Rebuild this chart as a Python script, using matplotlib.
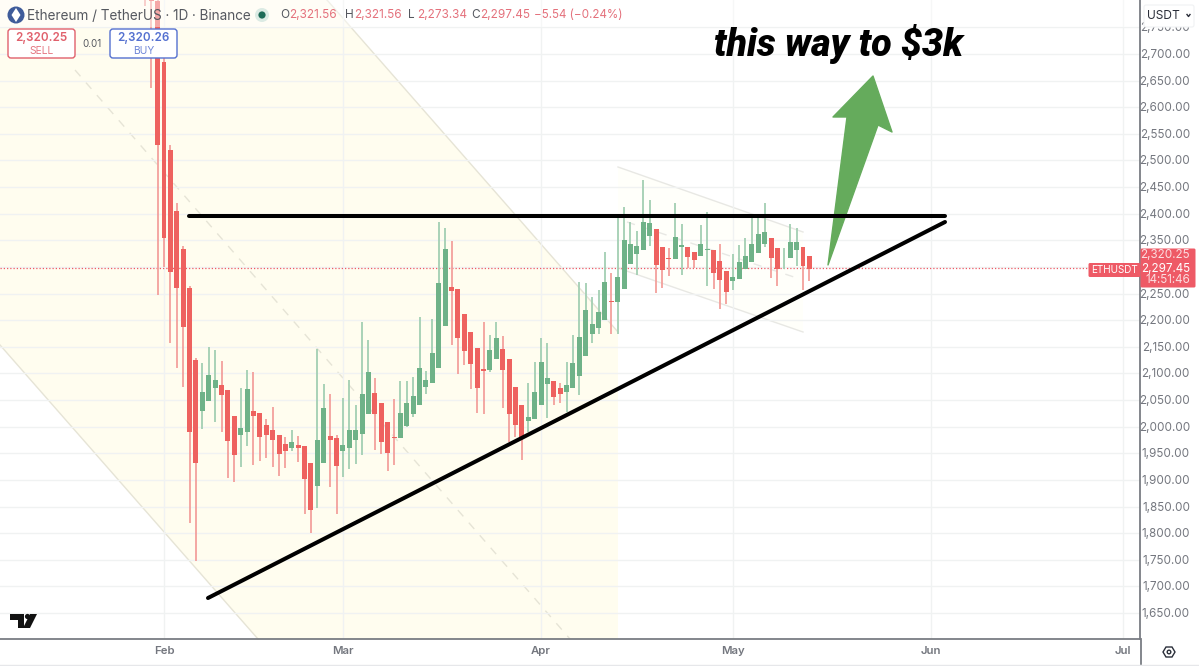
import matplotlib
matplotlib.use("Agg")
import matplotlib.pyplot as plt
from matplotlib.patches import Polygon, FancyBboxPatch, Circle, Rectangle
from matplotlib.lines import Line2D

# ---------- data (day number counted from 1 Feb) ----------
first_day = -3
opens = [2900, 2860, 2800, 2685, 2520, 2406, 2334, 2260, 2125,
         2030, 2048, 2072, 2079, 2069, 2021, 1984, 1991, 2030, 2025, 2003, 1994, 1985, 1968, 1961, 1966,
         1964, 1932, 1888, 1932, 1983, 1979, 1954, 1960, 1976, 1986, 2024, 2063, 2044, 2008, 1980, 1978,
         2002, 2023, 2041, 2075, 2082, 2110, 2190, 2262, 2258, 2212, 2177, 2147, 2109, 2106, 2127, 2146,
         2127, 2075, 2040, 2011, 2014, 2041, 2081, 2086, 2072, 2066, 2073, 2096, 2132, 2175, 2185, 2200,
         2236, 2235, 2258, 2305, 2324, 2331, 2358, 2371, 2337, 2316, 2315, 2337, 2338, 2329, 2321, 2332,
         2332, 2311, 2293, 2274, 2278, 2296, 2309, 2326, 2343, 2355, 2336, 2316, 2316, 2332, 2338, 2321]
closes = [2850, 2800, 2529, 2354, 2291, 2261, 2188, 1991, 1932,
          2065, 2097, 2087, 2060, 1974, 1946, 1998, 2070, 2020, 1981, 1985, 1976, 1949, 1954, 1972, 1961,
          1901, 1843, 1976, 2035, 1976, 1927, 1965, 1993, 1994, 2062, 2103, 2024, 1972, 1950, 1978, 2025,
          2044, 2058, 2110, 2087, 2139, 2269, 2333, 2254, 2167, 2143, 2117, 2072, 2105, 2145, 2166, 2107,
          2024, 2003, 1981, 2018, 2066, 2122, 2092, 2056, 2061, 2078, 2119, 2169, 2219, 2193, 2215, 2271,
          2234, 2282, 2351, 2343, 2339, 2385, 2382, 2304, 2294, 2315, 2357, 2341, 2319, 2313, 2343, 2334,
          2289, 2276, 2253, 2282, 2310, 2321, 2343, 2362, 2366, 2317, 2296, 2317, 2346, 2346, 2302, 2297]
highs = [2905, 2870, 2810, 2700, 2530, 2420, 2340, 2265, 2130,
         2120, 2150, 2145, 2123, 2069, 2021, 2072, 2106, 2102, 2025, 2014, 2038, 1985, 1980, 1994, 1983,
         1964, 1932, 2146, 2081, 2062, 1984, 2054, 2088, 2040, 2197, 2162, 2091, 2044, 2008, 2052, 2086,
         2085, 2093, 2207, 2105, 2202, 2384, 2374, 2349, 2258, 2212, 2177, 2147, 2197, 2172, 2197, 2170,
         2127, 2075, 2040, 2083, 2122, 2166, 2158, 2086, 2083, 2122, 2173, 2272, 2269, 2244, 2257, 2329,
         2288, 2394, 2413, 2385, 2368, 2463, 2426, 2371, 2337, 2336, 2421, 2381, 2338, 2329, 2378, 2403,
         2332, 2344, 2293, 2324, 2341, 2354, 2395, 2395, 2421, 2355, 2336, 2335, 2380, 2373, 2338, 2321]
lows = [2790, 2636, 2247, 2300, 2157, 2110, 2075, 1819, 1748,
        1995, 2048, 2009, 1990, 1903, 1897, 1925, 1963, 1928, 1936, 1941, 1924, 1907, 1923, 1955, 1934,
        1837, 1800, 1847, 1932, 1887, 1836, 1906, 1920, 1930, 1946, 2024, 1956, 1948, 1916, 1929, 1978,
        2000, 2018, 2041, 2061, 2082, 2110, 2190, 2153, 2099, 2116, 2070, 2025, 2024, 2103, 2127, 2035,
        1972, 1981, 1937, 1991, 2014, 2041, 2016, 2041, 2044, 2028, 2073, 2060, 2132, 2157, 2175, 2200,
        2174, 2174, 2258, 2305, 2285, 2331, 2339, 2252, 2260, 2283, 2315, 2285, 2299, 2299, 2321, 2264,
        2258, 2221, 2231, 2257, 2278, 2296, 2309, 2326, 2337, 2279, 2265, 2297, 2316, 2302, 2256, 2273]

price_ticks = list(range(1650, 2751, 50))
month_days = [0, 28, 59, 89, 120, 150]
month_labels = ["Feb", "Mar", "Apr", "May", "Jun", "Jul"]
last_price = 2297.45
axis_tags = ["2,320.25", "2,297.45", "14:51:46"]
header_name = "Ethereum / TetherUS · 1D · Binance"
ohlc = [("O", "2,321.56"), ("H", "2,321.56"), ("L", "2,273.34"), ("C", "2,297.45")]
change_text = "−5.54 (−0.24%)"

# ---------- styles ----------
W, H = 1199, 666
RED, GREEN = "#EE625F", "#6FB288"
RED_W, GREEN_W = "#F3A09C", "#A3CFB3"
GRID = "#F0F2F2"
TXT = "#74777F"
TAG = "#EE5A66"
IVORY = "#FFFDEF"
plt.rcParams["font.family"] = ["Inter", "DejaVu Sans"]

fig = plt.figure(figsize=(W / 100, H / 100), dpi=100, facecolor="white")

def px_axes(z):
    a = fig.add_axes([0, 0, 1, 1], zorder=z)
    a.set_xlim(0, W); a.set_ylim(H, 0); a.axis("off"); a.patch.set_alpha(0)
    return a

# ---------- drawings behind the candles (pixel space) ----------
back = px_axes(0)
back.add_patch(Polygon([(0, 0), (327, 0), (618, 332), (618, 639), (258, 639), (0, 345)],
                       fc=IVORY, ec="none"))
back.add_patch(Polygon([(618, 167), (803, 232), (803, 332), (618, 268)], fc="#FFFFFA", ec="none"))
for seg in ([(327, 0), (618, 332)], [(0, 345), (258, 639)]):
    back.add_line(Line2D(*zip(*seg), color="#E6E4D6", lw=1))
back.add_line(Line2D([75, 570], [70, 639], color="#E6E4D6", lw=1, ls=(0, (6, 6))))
for seg in ([(618, 167), (803, 232)], [(618, 268), (803, 332)]):
    back.add_line(Line2D(*zip(*seg), color="#E8E8E4", lw=1))
back.add_line(Line2D([627, 797], [222, 278], color="#E8E8E4", lw=1, ls=(0, (6, 6))))

# ---------- candles ----------
ax = fig.add_axes([0, (H - 639) / H, 1140 / W, 639 / H], zorder=1)
ax.patch.set_alpha(0)
ax.set_xlim(-164 / 6.39, (1140 - 164) / 6.39)
ax.set_ylim(2700 - (639 - 54) * 1.878, 2700 + 54 * 1.878)
for s in ("top", "left"):
    ax.spines[s].set_visible(False)
for s in ("right", "bottom"):
    ax.spines[s].set_color("#7A7D83"); ax.spines[s].set_linewidth(1.3)
ax.set_yticks(price_ticks)
ax.set_xticks(month_days)
ax.grid(True, color=GRID, lw=1)
ax.set_axisbelow(True)
ax.tick_params(length=0, labelleft=False, labelbottom=False)

for i, (o, c, h, l) in enumerate(zip(opens, closes, highs, lows)):
    d = first_day + i
    up = c >= o
    ax.vlines(d, l, h, color=GREEN_W if up else RED_W, lw=1.3, zorder=2)
    ax.bar(d, abs(c - o), bottom=min(o, c), width=0.78, color=GREEN if up else RED, zorder=3)
ax.axhline(last_price, color=TAG, lw=0.9, ls=(0, (1, 1.6)), xmax=1088 / 1140, zorder=1.5)

for d, lab in zip(month_days, month_labels):
    ax.annotate(lab, (d, 0), xycoords=("data", "axes fraction"), xytext=(0, -12),
                textcoords="offset pixels", ha="center", va="center",
                fontsize=8.2, fontweight="semibold", color=TXT)
for p in price_ticks:
    if p == 2300:
        continue
    ax.annotate(f"{p:,.2f}", (1, p), xycoords=("axes fraction", "data"), xytext=(50, -1),
                textcoords="offset pixels", ha="right", va="center",
                fontsize=8.4, color=TXT, annotation_clip=False)

# ---------- overlay (pixel space) ----------
top = px_axes(2)
top.add_patch(Polygon([(828, 265), (847, 117), (833, 117), (873, 76), (892, 132), (878, 125)],
                      closed=True, fc="#65AB5C", ec="#65AB5C", lw=1, joinstyle="round"))
top.add_line(Line2D([189, 945], [216, 216], color="black", lw=2.9, solid_capstyle="round"))
top.add_line(Line2D([208, 945], [598, 222], color="black", lw=2.9, solid_capstyle="round"))
top.text(714, 44, "this way to $3k", fontsize=27, fontweight="black", style="italic",
         family=["Roboto", "DejaVu Sans"], color="black", va="center", ha="left")

# header veil, logo and legend
top.add_patch(Rectangle((0, 0), 1139, 27, fc="white", ec="none", alpha=0.45))
top.add_patch(Circle((16, 15), 8.5, fc="#3F5C9A", ec="none"))
top.add_patch(Polygon([(16, 8), (20.5, 15), (16, 22), (11.5, 15)], fc="white", ec="none"))
top.text(27, 15.5, header_name, fontsize=9.75, color="#55585F", va="center")
top.add_patch(Circle((262, 15), 7, fc="#DCEBE4", ec="none"))
top.add_patch(Circle((262, 15), 3.6, fc="#1E6B57", ec="none"))
for (k, v), xk in zip(ohlc, (280, 345, 408, 471)):
    top.text(xk, 15.5, k, fontsize=8.5, color="#55585F", va="center")
    top.text(xk + 9, 15.5, v, fontsize=8.5, color="#E4717C", va="center")
top.text(534, 15.5, change_text, fontsize=8.4, color="#E4717C", va="center")

# sell / buy
for x0, col, price, lab in ((8, "#E0606C", "2,320.25", "SELL"), (110, "#5470D0", "2,320.26", "BUY")):
    top.add_patch(FancyBboxPatch((x0 + 3, 32), 61, 23, boxstyle="round,pad=3", fc="white",
                                 ec=col, lw=1))
    top.text(x0 + 33.5, 38.5, price, fontsize=8.4, fontweight="semibold", color=col,
             ha="center", va="center")
    top.text(x0 + 33.5, 51, lab, fontsize=7.4, color=col, alpha=0.85, ha="center", va="center")
top.text(92, 44, "0.01", fontsize=7, color="#55585F", ha="center", va="center")

# price tags
top.add_patch(FancyBboxPatch((1090, 264.5), 49, 11, boxstyle="round,pad=1.5", fc=TAG, ec="none"))
top.text(1114, 270, "ETHUSDT", fontsize=7.1, color="white", ha="center", va="center")
top.add_patch(FancyBboxPatch((1142, 250), 52, 36, boxstyle="round,pad=1.5", fc=TAG, ec="none"))
for y, s, a in zip((255, 269, 280), axis_tags, (0.8, 1, 0.8)):
    top.text(1190, y, s, fontsize=8.4, color="white", alpha=a, ha="right", va="center")

# currency button
top.add_patch(FancyBboxPatch((1146, 7), 46, 18, boxstyle="round,pad=2", fc="white", ec="#F0F1F3", lw=0.8))
top.text(1147, 16, "USDT", fontsize=8.6, color="#2A2E39", va="center")
top.add_line(Line2D([1187, 1188.5, 1190], [14.5, 16.5, 14.5], color="#2A2E39", lw=1))

# TradingView mark
top.add_patch(Polygon([(10, 614), (24, 614), (24, 628), (18, 628), (18, 620), (10, 620)], fc="#111", ec="none"))
top.add_patch(Circle((27.5, 616.5), 2.6, fc="#111", ec="none"))
top.add_patch(Polygon([(30, 614), (37, 614), (30, 628), (23, 628)], fc="#111", ec="none"))

# settings icon and frame lines
top.add_patch(Polygon([(1163, 652), (1166, 647), (1172, 647), (1175, 652), (1172, 657), (1166, 657)],
                      fc="none", ec="#2A2E39", lw=1))
top.add_patch(Circle((1169, 652), 1.8, fc="none", ec="#2A2E39", lw=1))
top.add_line(Line2D([1140.5, 1140.5], [639, 664], color="#7A7D83", lw=1.3))
top.add_line(Line2D([0, W], [664.5, 664.5], color="#E6E7EA", lw=1))

fig.savefig("out.png", dpi=100, facecolor="white")
